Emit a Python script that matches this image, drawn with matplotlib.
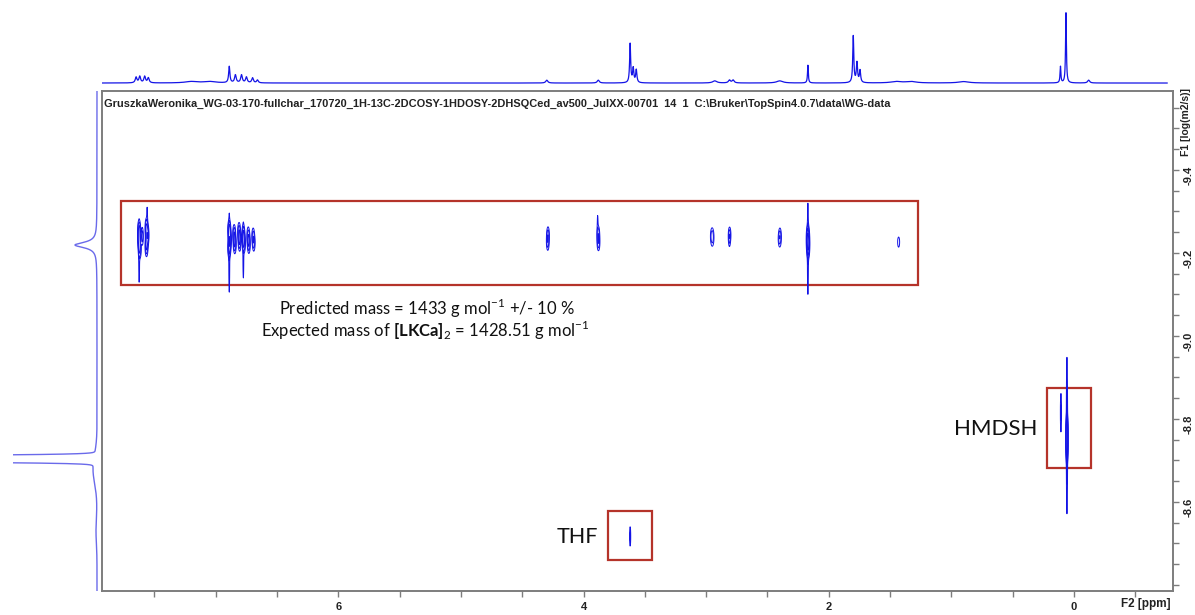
import numpy as np
import matplotlib as mpl
import matplotlib.pyplot as plt
from matplotlib.patches import Rectangle
from matplotlib.ticker import MultipleLocator, FixedLocator, FormatStrFormatter

mpl.rcParams['font.family'] = ['Liberation Sans', 'DejaVu Sans']
mpl.rcParams['mathtext.fontset'] = 'custom'
mpl.rcParams['mathtext.rm'] = 'Lato'
mpl.rcParams['mathtext.bf'] = 'Lato:bold'

# 1H trace on top (F2): shift (ppm), height (tallest = 100), half-width (ppm)
h1_ppm = [7.65, 7.62, 7.58, 7.55, 7.20, 7.05, 6.89, 6.84, 6.79, 6.75, 6.70, 6.66,
          4.30, 3.88, 3.62, 3.595, 3.57, 2.93, 2.81, 2.78, 2.40, 2.17,
          1.80, 1.77, 1.745, 1.45, 1.33, 0.90, 0.11, 0.065, -0.12]
h1_height = [8, 9, 9, 7, 2, 2, 23, 11, 11, 8, 7, 4,
             4, 4, 55, 20, 18, 3, 4, 4, 3, 25,
             66, 28, 17, 2, 2, 2, 23, 100, 4]
h1_width = [0.008, 0.008, 0.008, 0.008, 0.06, 0.06, 0.006, 0.008, 0.008, 0.008, 0.008, 0.008,
            0.01, 0.01, 0.005, 0.006, 0.006, 0.02, 0.01, 0.01, 0.03, 0.004,
            0.005, 0.006, 0.006, 0.05, 0.05, 0.05, 0.004, 0.004, 0.01]

# DOSY cross peaks: F2 (ppm), F1 (log D), F2 width, F1 width, amplitude
dosy_f2 = [
    # aromatic 7.5-7.7
    7.625, 7.625, 7.62, 7.60, 7.565, 7.56, 7.565, 7.555, 7.625, 7.56,
    # aromatic 6.6-6.9
    6.89, 6.885, 6.89, 6.89, 6.85, 6.845, 6.81, 6.805, 6.775, 6.77, 6.775,
    6.735, 6.73, 6.695, 6.69,
    # aliphatic
    4.29, 4.292, 3.88, 3.878, 3.885, 2.95, 2.952, 2.81, 2.808, 2.40, 2.398,
    2.17, 2.168, 2.17, 1.43,
    # HMDSH and THF
    0.057, 0.057, 0.057, 0.106, 3.62]
dosy_f1 = [
    -9.255, -9.232, -9.21, -9.24, -9.26, -9.238, -9.215, -9.245, -9.19, -9.28,
    -9.255, -9.232, -9.212, -9.20, -9.245, -9.222, -9.25, -9.228, -9.245, -9.224, -9.20,
    -9.24, -9.222, -9.24, -9.224,
    -9.243, -9.226, -9.245, -9.226, -9.265, -9.236, -9.243, -9.236, -9.244, -9.233, -9.243,
    -9.236, -9.218, -9.21, -9.226,
    -8.77, -8.735, -8.76, -8.815, -8.517]
dosy_w2 = [
    0.006, 0.006, 0.006, 0.005, 0.006, 0.006, 0.006, 0.005, 0.003, 0.003,
    0.006, 0.006, 0.006, 0.003, 0.006, 0.006, 0.006, 0.006, 0.006, 0.006, 0.003,
    0.006, 0.006, 0.006, 0.006,
    0.006, 0.006, 0.006, 0.006, 0.003, 0.008, 0.007, 0.005, 0.006, 0.007, 0.006,
    0.006, 0.006, 0.003, 0.008,
    0.004, 0.004, 0.003, 0.003, 0.003]
dosy_w1 = [
    0.012, 0.012, 0.012, 0.012, 0.012, 0.012, 0.012, 0.012, 0.05, 0.03,
    0.012, 0.012, 0.012, 0.07, 0.012, 0.012, 0.012, 0.012, 0.012, 0.012, 0.05,
    0.012, 0.012, 0.011, 0.011,
    0.011, 0.011, 0.011, 0.011, 0.025, 0.012, 0.01, 0.012, 0.01, 0.011, 0.01,
    0.015, 0.015, 0.075, 0.012,
    0.018, 0.018, 0.105, 0.03, 0.015]
dosy_amp = [
    1.0, 1.1, 0.9, 0.6, 0.9, 1.1, 0.9, 0.6, 0.25, 0.2,
    1.1, 1.2, 1.0, 0.3, 0.8, 0.9, 0.8, 0.9, 0.8, 0.9, 0.25,
    0.7, 0.8, 0.6, 0.6,
    0.6, 0.6, 0.6, 0.7, 0.2, 0.45, 0.3, 0.5, 0.4, 0.5, 0.4,
    1.5, 1.5, 0.35, 0.2,
    3.0, 3.0, 0.6, 0.4, 0.4]

# F1 projection on the left: log D, height, width, shape
f1_pos = [-9.219, -8.704, -8.68, -8.53]
f1_height = [22, 1000, 4, 1]
f1_width = [0.008, 0.0043, 0.035, 0.03]
f1_shape = ['lorentz', 'gauss', 'gauss', 'gauss']

x_major = [0, 2, 4, 6]
y_major = [-9.4, -9.2, -9.0, -8.8, -8.6]

title = ('GruszkaWeronika_WG-03-170-fullchar_170720_1H-13C-2DCOSY-1HDOSY-2DHSQCed_av500_JulXX-00701'
         '  14  1  C:\\Bruker\\TopSpin4.0.7\\data\\WG-data')

xlim = (7.928, -0.808)
ylim = (-8.3855, -9.590)
blue = '#1414e6'
red = '#b5332a'
frame = '#7d7d7d'
ink = '#222222'

W, H = 1195, 615
fig = plt.figure(figsize=(W / 100, H / 100), dpi=100)


def px_axes(x0, y0, x1, y1):
    return fig.add_axes([x0 / W, 1 - y1 / H, (x1 - x0) / W, (y1 - y0) / H])


ax = px_axes(102, 91, 1173, 591)
ax_top = px_axes(102, 8, 1173, 88)
ax_left = px_axes(13, 91, 100, 591)

# 2D contour map
f2 = np.linspace(xlim[1], xlim[0], 6000)
f1 = np.linspace(ylim[1], ylim[0], 900)
g2 = np.exp(-0.5 * ((f2[None, :] - np.array(dosy_f2)[:, None]) / np.array(dosy_w2)[:, None]) ** 2)
g1 = np.exp(-0.5 * ((f1[None, :] - np.array(dosy_f1)[:, None]) / np.array(dosy_w1)[:, None]) ** 2)
Z = (g1 * np.array(dosy_amp)[:, None]).T @ g2
ax.contour(f2, f1, Z, levels=[0.12, 0.32, 0.75, 1.6],
           colors=blue, linewidths=0.7)

ax.set_xlim(*xlim)
ax.set_ylim(*ylim)
ax.xaxis.set_major_locator(FixedLocator(x_major))
ax.xaxis.set_minor_locator(MultipleLocator(0.5))
ax.xaxis.set_major_formatter(FormatStrFormatter('%d'))
ax.yaxis.set_major_locator(FixedLocator(y_major))
ax.yaxis.set_minor_locator(MultipleLocator(0.05))
ax.yaxis.set_major_formatter(FormatStrFormatter('%.1f'))
ax.yaxis.tick_right()
ax.tick_params(axis='both', which='both', direction='out', length=4, width=1, color=frame,
               labelsize=8)
ax.tick_params(axis='x', pad=4)
ax.tick_params(axis='y', pad=4, labelrotation=90)
for lab in ax.get_xticklabels() + ax.get_yticklabels():
    lab.set_fontweight('bold')
    lab.set_color(ink)
for sp in ax.spines.values():
    sp.set_color(frame)
    sp.set_linewidth(1.4)

ax.text(0.002, 0.985, title, transform=ax.transAxes, ha='left', va='top',
        fontsize=7.9, fontweight='bold', color=ink)
fig.text(1146 / W, 1 - 604 / H, 'F2 [ppm]', ha='center', va='center',
         fontsize=8.5, fontweight='bold', color=ink)
fig.text(1186 / W, 1 - 122 / H, 'F1 [log(m2/s)]', ha='center', va='center', rotation=90,
         fontsize=7.5, fontweight='bold', color=ink)

# boxed regions and labels
boxes = [(7.773, 1.272, -9.325, -9.123), (0.22, -0.139, -8.875, -8.682),
         (3.80, 3.44, -8.578, -8.460)]
for xa, xb, ya, yb in boxes:
    ax.add_patch(Rectangle((xb, ya), xa - xb, yb - ya, fill=False, edgecolor=red, lw=1.6))

ax.text(5.277, -9.065, r'Predicted mass = 1433 g mol$^{-1}$ +/- 10 %', ha='center',
        va='center', fontsize=12, family='Lato', color='#111111')
ax.text(5.29, -9.012, r'Expected mass of $\mathbf{[LKCa]}_2$ = 1428.51 g mol$^{-1}$',
        ha='center', va='center', fontsize=12, family='Lato', color='#111111')
ax.text(0.30, -8.776, 'HMDSH', ha='right', va='center', fontsize=16, family='Lato',
        color='#111111')
ax.text(3.88, -8.516, 'THF', ha='right', va='center', fontsize=15.5, family='Lato',
        color='#111111')

# 1H projection
ppm = np.linspace(xlim[0], -0.76, 9000)
spec = np.zeros_like(ppm)
for c, h, w in zip(h1_ppm, h1_height, h1_width):
    spec += h / (1 + ((ppm - c) / w) ** 2)
ax_top.plot(ppm, spec, color=blue, lw=0.9)
ax_top.set_xlim(*xlim)
ax_top.set_ylim(-7, 105.6)
ax_top.axis('off')

# F1 projection
logd = np.linspace(ylim[1], ylim[0], 4000)
proj = np.zeros_like(logd)
for c, h, w, s in zip(f1_pos, f1_height, f1_width, f1_shape):
    if s == 'lorentz':
        proj += h / (1 + ((logd - c) / w) ** 2)
    else:
        proj += h * np.exp(-0.5 * ((logd - c) / w) ** 2)
ax_left.plot(proj, logd, color='#6a6aea', lw=1.0)
ax_left.set_xlim(84, -3)
ax_left.set_ylim(*ylim)
ax_left.axis('off')

fig.savefig('out.png', dpi=100)
